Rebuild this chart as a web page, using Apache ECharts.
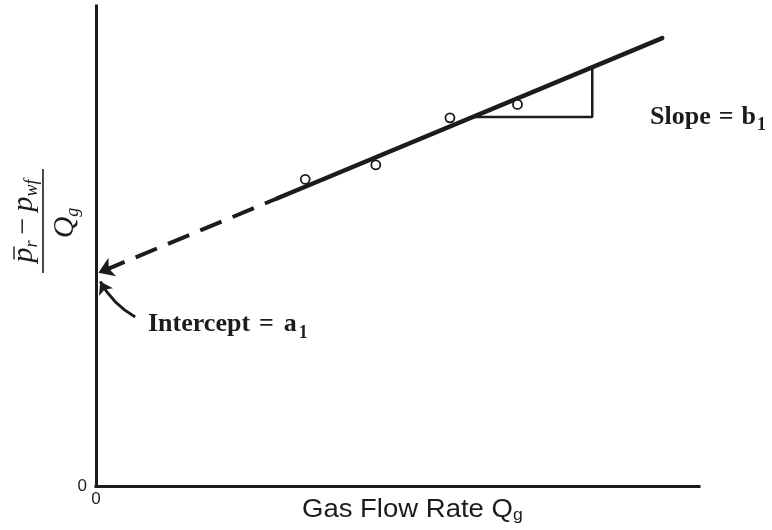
<!DOCTYPE html>
<html>
<head>
<meta charset="utf-8">
<script src="https://cdn.jsdelivr.net/npm/echarts@6.0.0/dist/echarts.min.js"></script>
<style>
  html, body { margin: 0; padding: 0; background: #fff; }
  #chart { width: 772px; height: 530px; }
</style>
</head>
<body>
<div id="chart"></div>
<script>
// Back-pressure test points: gas flow rate vs (p̄r − pwf)/Qg, arbitrary units
const flowRate = [34.7, 46.4, 58.7, 69.9];
const pressureRatio = [63.9, 66.9, 76.7, 79.5];

// Straight-line fit: intercept a1 and slope b1
const interceptA1 = 44.2;
const slopeB1 = 0.523;

// Extent of the fitted line: dashed extrapolation back to the axis, then solid
const extrapolateTo = 0.4;
const fitStart = 30.0;
const fitEnd = 93.9;

// Run of the slope triangle
const triangleRun = [62.5, 82.3];

// Curved pointer from the intercept label to the axis
const pointerFrom = [6.5, 35.2];
const pointerTo = [0.7, 42.6];

// Axis range
const axisRange = [0, 100];

const fit = x => interceptA1 + slopeB1 * x;
const ink = '#1c1c1c';
const serif = '"Liberation Serif", "Times New Roman", serif';
const sans = '"Liberation Sans", Arial, Helvetica, sans-serif';

// text measuring, used to set subscripts right after their base letters
const measureCtx = document.createElement('canvas').getContext('2d');
function textWidth(font, str) {
  measureCtx.font = font;
  return measureCtx.measureText(str).width;
}

// A row of text runs sharing one baseline; each run may be raised or lowered (dy)
// and followed by extra space (gap). Returns graphic text elements.
function textRuns(x, baseline, runs) {
  const out = [];
  let cx = x;
  runs.forEach(r => {
    const font = r.style + ' ' + r.size + 'px ' + r.family;
    const k = r.family === sans ? 0.31 : 0.305;
    out.push({
      type: 'text', x: cx, y: baseline + (r.dy || 0) - k * r.size, silent: true,
      style: {
        text: r.t, font: font, fill: ink,
        align: 'left', textAlign: 'left',
        verticalAlign: 'middle', textVerticalAlign: 'middle'
      }
    });
    cx += textWidth(font, r.t) + (r.gap || 0);
  });
  return out;
}

function runsWidth(runs) {
  return runs.reduce((w, r) => w + textWidth(r.style + ' ' + r.size + 'px ' + r.family, r.t) + (r.gap || 0), 0);
}

const chart = echarts.init(document.getElementById('chart'), null, { renderer: 'canvas' });

const axisCommon = {
  type: 'value',
  min: axisRange[0],
  max: axisRange[1],
  interval: axisRange[1] - axisRange[0],
  axisLine: { show: true, onZero: false, lineStyle: { color: ink, width: 3, cap: 'square' } },
  axisTick: { show: false },
  splitLine: { show: false },
  axisLabel: {
    color: ink, fontSize: 17, fontFamily: sans,
    showMaxLabel: false,
    formatter: v => (v === 0 ? '0' : '')
  }
};

const bold = (t, size, dy, gap) => ({ t: t, size: size, dy: dy, gap: gap, style: 'bold', family: serif });
const ital = (t, size, dy, gap) => ({ t: t, size: size, dy: dy, gap: gap, style: 'italic', family: serif });
const roman = (t, size, dy, gap) => ({ t: t, size: size, dy: dy, gap: gap, style: 'normal', family: serif });

const slopeRuns = [bold('Slope', 26, 0, 8), bold('=', 26, 0, 8), bold('b', 26, 0, 1), bold('1', 18, 6)];
const interceptRuns = [bold('Intercept', 26, 0, 9), bold('=', 26, 0, 10), bold('a', 26, 0, 2), bold('1', 18, 7)];

// y-axis title pieces (drawn in a rotated group; local x runs upward on screen)
const numRuns = [ital('p', 30), ital('r', 18, 5, 6), roman('−', 30, 0, 6), ital('p', 30), ital('wf', 18, 5)];
const denRuns = [ital('Q', 30), ital('g', 18, 5)];
const numW = runsWidth(numRuns);
const denW = runsWidth(denRuns);
const pW = textWidth('italic 30px ' + serif, 'p');

// x-axis title pieces
const xTitleRuns = [
  { t: 'Gas Flow Rate Q', size: 25, style: 'normal', family: sans },
  { t: 'g', size: 16, dy: 3, style: 'normal', family: sans }
];

const option = {
  animation: false,
  backgroundColor: '#ffffff',
  grid: { left: 96, right: 73, top: 6, bottom: 44, containLabel: false, outerBoundsMode: 'none' },
  xAxis: Object.assign({}, axisCommon, {
    axisLabel: Object.assign({}, axisCommon.axisLabel, { margin: 5 })
  }),
  yAxis: Object.assign({}, axisCommon, {
    axisLabel: Object.assign({}, axisCommon.axisLabel, { margin: 9 })
  }),
  series: [
    {
      // slope triangle
      type: 'line',
      data: [
        [triangleRun[0], fit(triangleRun[0])],
        [triangleRun[1], fit(triangleRun[0])],
        [triangleRun[1], fit(triangleRun[1])]
      ],
      showSymbol: false,
      lineStyle: { color: ink, width: 2.5 },
      silent: true,
      z: 2
    },
    {
      // solid fitted line
      type: 'line',
      data: [[fitStart, fit(fitStart)], [fitEnd, fit(fitEnd)]],
      showSymbol: false,
      lineStyle: { color: ink, width: 4.5, cap: 'round' },
      silent: true,
      z: 3
    },
    {
      // dashed extrapolation to the intercept
      type: 'lines',
      coordinateSystem: 'cartesian2d',
      symbol: ['none', 'arrow'],
      symbolSize: 15,
      silent: true,
      lineStyle: { color: ink, width: 4, type: [23, 12], dashOffset: 10, opacity: 1, curveness: 0 },
      data: [{ coords: [[fitStart, fit(fitStart)], [extrapolateTo, fit(extrapolateTo)]] }],
      z: 3
    },
    {
      // curved pointer from the intercept label
      type: 'lines',
      coordinateSystem: 'cartesian2d',
      symbol: ['none', 'arrow'],
      symbolSize: 12,
      silent: true,
      lineStyle: { color: ink, width: 2.8, type: 'solid', opacity: 1, curveness: 0.14 },
      data: [{ coords: [pointerFrom, pointerTo] }],
      z: 3
    },
    {
      // measured points
      type: 'scatter',
      data: flowRate.map((q, i) => [q, pressureRatio[i]]),
      symbol: 'circle',
      symbolSize: 9,
      itemStyle: { color: '#ffffff', borderColor: ink, borderWidth: 1.8, opacity: 1 },
      silent: true,
      z: 4
    }
  ],
  graphic: [
    // x-axis title, set slightly wide
    {
      type: 'group', x: 302, y: 517.5, scaleX: 1.1, silent: true,
      children: textRuns(0, 0, xTitleRuns)
    },
    // slope annotation
    { type: 'group', silent: true, children: textRuns(650, 125, slopeRuns) },
    // intercept annotation
    { type: 'group', silent: true, children: textRuns(148, 332, interceptRuns) },
    // y-axis title: (p̄r − pwf) / Qg, turned to read upward
    {
      type: 'group',
      x: 43, y: 221,
      rotation: Math.PI / 2,
      silent: true,
      children: [
        { type: 'line', shape: { x1: -52, y1: 0, x2: 52, y2: 0 },
          style: { stroke: ink, lineWidth: 1.6 } },
        { type: 'line', shape: { x1: -numW / 2 + 3, y1: -29, x2: -numW / 2 + pW + 1, y2: -29 },
          style: { stroke: ink, lineWidth: 1.4 } }
      ].concat(textRuns(-numW / 2, -10, numRuns))
       .concat(textRuns(-denW / 2 - 2, 31, denRuns))
    }
  ]
};

chart.setOption(option);
</script>
</body>
</html>
